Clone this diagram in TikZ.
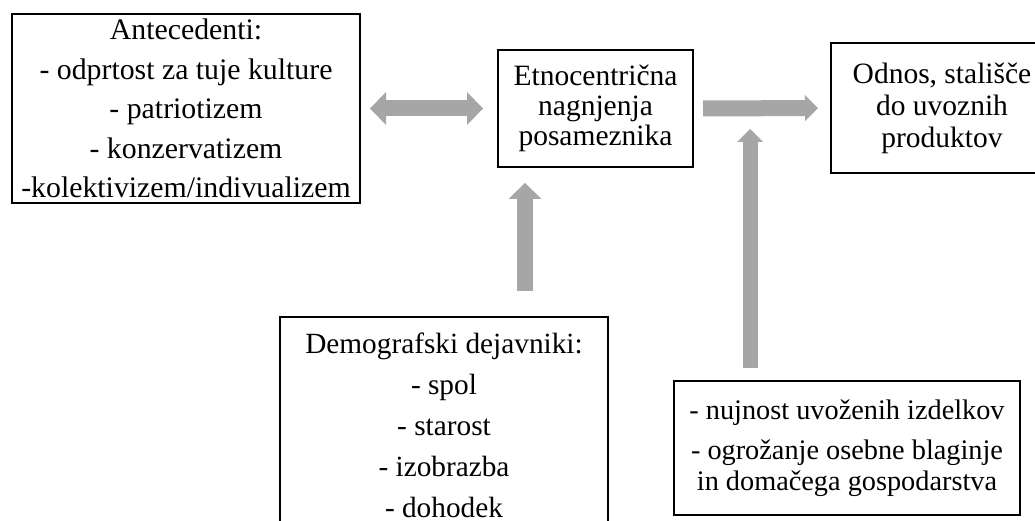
\documentclass[tikz,border=0pt]{standalone}
\usepackage{fontspec}
\setmainfont{Liberation Serif}
\usetikzlibrary{arrows.meta}
\definecolor{arrowgray}{RGB}{166,166,166}
\tikzset{
  bigtip/.tip={Triangle[length=16pt 0 0,width=33pt 0 0,line width=0pt 0 0]},
  smalltip/.tip={Triangle[length=13pt 0 0,width=26pt 0 0,line width=0pt 0 0]},
}
\begin{document}
\begin{tikzpicture}[x=1pt,y=-1pt,
  box/.style={draw, line width=1.8pt, inner sep=0pt, outer sep=0pt, align=center},
  blk/.style={draw=arrowgray, fill=arrowgray, line width=16pt}]
\useasboundingbox (0,0) rectangle (1035,521);
\clip (0,0) rectangle (1035,521);
\fill[white] (0,0) rectangle (1035,521);

\node[box, minimum width=348pt, minimum height=189pt,
      font=\fontsize{29.8}{39.5}\selectfont] (ante) at (186,108.5)
  {Antecedenti:\\- odprtost za tuje kulture\\- patriotizem\\- konzervatizem\\-kolektivizem/indivualizem};

\node[box, minimum width=195pt, minimum height=117pt,
      font=\fontsize{29.5}{30}\selectfont] (etno) at (595.5,108.5)
  {Etnocentrična\\nagnjenja\\posameznika};

\node[box, minimum width=222pt, minimum height=130pt,
      font=\fontsize{29.5}{32}\selectfont] (odnos) at (942,108)
  {Odnos, stališče\\do uvoznih\\produktov};

\node[box, minimum width=328pt, minimum height=216pt,
      font=\fontsize{29.3}{41}\selectfont] (dem) at (444,425)
  {Demografski dejavniki:\\- spol\\- starost\\- izobrazba\\- dohodek};

\node[box, minimum width=346pt, minimum height=134pt,
      font=\fontsize{28.3}{31}\selectfont] (nuj) at (847,448)
  {- nujnost uvoženih izdelkov\\[9pt]- ogrožanje osebne blaginje\\in domačega gospodarstva};

\coordinate (mod) at (750,129);

\draw[blk, line width=16pt, {bigtip}-{bigtip}, shorten <=10pt, shorten >=15pt]
  (ante.east) -- (etno.west);
\draw[blk, line width=16pt, -{smalltip}, shorten <=10pt, shorten >=13pt]
  (etno.east) -- (odnos.west);
\draw[blk, line width=16pt, -{bigtip}, shorten <=26pt, shorten >=16pt]
  ([xshift=81pt]dem.north) -- ([xshift=81pt]dem.north |- etno.south);
\draw[blk, line width=15pt, -{smalltip}, shorten <=13pt]
  (nuj.north -| mod) -- (mod);
\end{tikzpicture}
\end{document}
